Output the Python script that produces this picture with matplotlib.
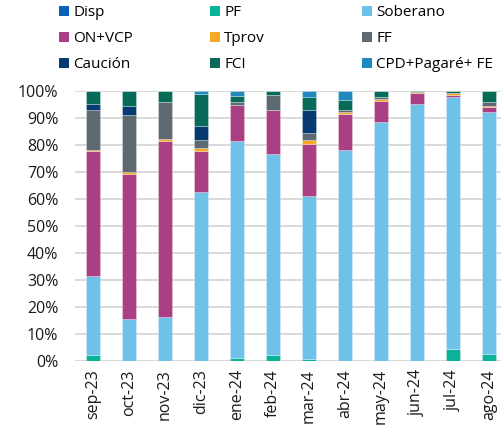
import matplotlib
matplotlib.use("Agg")
import matplotlib.pyplot as plt
import numpy as np
from matplotlib.ticker import PercentFormatter
from matplotlib.patches import Patch

plt.rcParams['font.family'] = ['Open Sans', 'DejaVu Sans']

months = ["sep-23", "oct-23", "nov-23", "dic-23", "ene-24", "feb-24",
          "mar-24", "abr-24", "may-24", "jun-24", "jul-24", "ago-24"]

disp     = [0, 0, 0, 0, 0, 0, 0, 0, 0, 0, 0, 0]
pf       = [2.3, 0, 0, 0, 1.2, 2.2, 0.9, 0, 0, 0, 4.3, 2.7]
soberano = [29.2, 15.4, 16.3, 62.7, 80.3, 74.5, 60.1, 78.1, 88.5, 95.3, 93.5, 89.6]
on_vcp   = [46.2, 53.9, 65.1, 15.2, 13.4, 16.4, 19.5, 13.5, 7.8, 4.0, 0.9, 1.8]
tprov    = [0.4, 0.7, 0.7, 0.9, 0, 0, 1.2, 0.6, 0.7, 0.5, 0.5, 0.5]
ff       = [15.0, 21.1, 13.8, 3.1, 1.2, 5.3, 2.7, 0.7, 0.6, 0, 0, 1.5]
caucion  = [2.2, 3.5, 0, 5.3, 0, 0, 8.7, 0, 0, 0, 0, 0]
fci      = [4.7, 5.4, 4.1, 11.6, 1.9, 1.6, 4.8, 3.9, 2.4, 0.2, 0.8, 3.9]
cpd      = [0, 0, 0, 1.2, 2.0, 0, 2.1, 3.2, 0, 0, 0, 0]

series_names = ["Disp", "PF", "Soberano", "ON+VCP", "Tprov", "FF",
                "Caución", "FCI", "CPD+Pagaré+ FE"]
series_vals = [disp, pf, soberano, on_vcp, tprov, ff, caucion, fci, cpd]
colors = ["#0B63B8", "#0BB39A", "#6EC1E8", "#AA3F84", "#F9A825", "#5E6A71",
          "#053B70", "#086B5A", "#1F88BE"]

fig = plt.figure(figsize=(5.01, 4.38), dpi=100)
ax = fig.add_axes([75/501, 77/438, 426/501, 270/438])

x = np.arange(len(months))
bottom = np.zeros(len(months))
for name, vals, c in zip(series_names, series_vals, colors):
    v = np.array(vals) / 100.0
    ax.bar(x, v, width=0.4, bottom=bottom, color=c, edgecolor=(1, 1, 1, 0.5),
           linewidth=0.4, zorder=3)
    bottom += v

ax.set_xlim(-0.5, 11.33)
ax.set_ylim(0, 1)
ax.set_yticks(np.arange(0, 1.01, 0.1))
ax.yaxis.set_major_formatter(PercentFormatter(1.0, decimals=0))
ax.set_xticks(x)
ax.set_xticklabels(months, rotation=90)
ax.grid(axis='y', color='#D9D9D9', linewidth=1.4, zorder=0)
for s in ['top', 'right', 'left', 'bottom']:
    ax.spines[s].set_visible(False)
ax.axhline(0, color='#D9D9D9', linewidth=1.4, zorder=2)
ax.tick_params(axis='both', length=0, labelsize=11.5, colors='#1a1a1a', pad=6)
ax.tick_params(axis='y', pad=12)

handles = [Patch(facecolor=c, edgecolor='none') for c in colors]
col_x = [51, 202, 354]
for col in range(3):
    idx = [col, col + 3, col + 6]
    leg = fig.legend([handles[i] for i in idx], [series_names[i] for i in idx],
                     ncol=1, loc='upper left', bbox_to_anchor=(col_x[col]/501, 1.005),
                     frameon=False, fontsize=11, handlelength=0.65, handleheight=0.65,
                     handletextpad=0.3, labelspacing=0.72, borderaxespad=0.1)

fig.savefig("out.png", dpi=100)
